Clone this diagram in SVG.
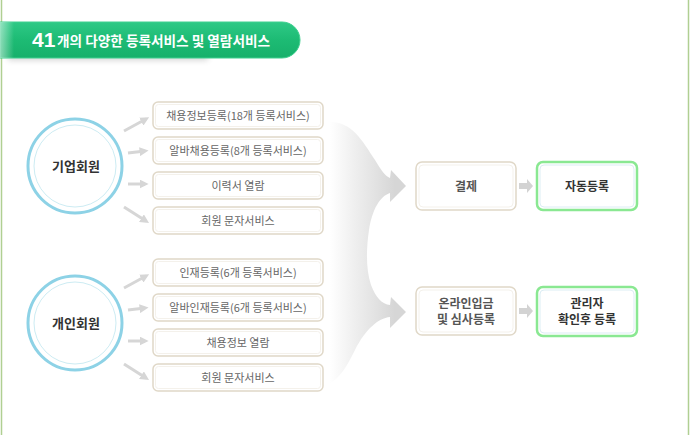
<svg xmlns="http://www.w3.org/2000/svg" width="690" height="435" viewBox="0 0 690 435">
<defs>
<style>
.box{fill:#fff;stroke:#e0d8c8;stroke-width:1.5}
.boxin{fill:none;stroke:#f4f1eb;stroke-width:1}
.gbox{fill:#fff;stroke:#8ae892;stroke-width:2.5}
.gin{fill:none;stroke:#dcedf4;stroke-width:1}
.t{font-family:"Noto Sans CJK KR","Noto Sans",sans-serif;font-size:11px;fill:#666;text-anchor:middle}
.ct{font-family:"Noto Sans CJK KR",sans-serif;font-size:13px;font-weight:bold;fill:#333;text-anchor:middle}
.rt{font-family:"Noto Sans CJK KR",sans-serif;font-size:12px;font-weight:bold;fill:#555;text-anchor:middle}
.gt{font-family:"Noto Sans CJK KR",sans-serif;font-size:12px;font-weight:bold;fill:#333;text-anchor:middle}
.ln{stroke:#d6d6d6;stroke-width:3;fill:none;marker-end:url(#ah)}
.circ{fill:#fff;stroke:#8dd2e6;stroke-width:3}
.circin{fill:none;stroke:#cdecf3;stroke-width:1}
</style>
<marker id="ah" viewBox="0 0 10 10" refX="6" refY="5" markerWidth="3" markerHeight="3" orient="auto" markerUnits="strokeWidth">
<path d="M0,0 L10,5 L0,10 Z" fill="#d6d6d6"/>
</marker>
<linearGradient id="sw" x1="330" y1="0" x2="395" y2="0" gradientUnits="userSpaceOnUse">
<stop offset="0" stop-color="#ffffff"/>
<stop offset="0.35" stop-color="#f0f0f0"/>
<stop offset="1" stop-color="#d6d6d6"/>
</linearGradient>
<linearGradient id="ban" x1="0" y1="22" x2="0" y2="58" gradientUnits="userSpaceOnUse">
<stop offset="0" stop-color="#2ec986"/>
<stop offset="0.5" stop-color="#1dbb74"/>
<stop offset="1" stop-color="#17b06b"/>
</linearGradient>
<linearGradient id="banl" x1="0" y1="0" x2="14" y2="0" gradientUnits="userSpaceOnUse">
<stop offset="0" stop-color="#ffffff" stop-opacity="0.5"/>
<stop offset="1" stop-color="#ffffff" stop-opacity="0"/>
</linearGradient>
<filter id="blur" x="-20%" y="-100%" width="140%" height="300%">
<feGaussianBlur stdDeviation="3"/>
</filter>
</defs>
<rect width="690" height="435" fill="#fff"/>
<line x1="1.5" y1="0" x2="1.5" y2="435" stroke="#b0cf92" stroke-width="1.5"/>
<line x1="688.5" y1="0" x2="688.5" y2="435" stroke="#b0cf92" stroke-width="1.5"/>

<g id="header">
<rect x="8" y="52" width="200" height="8" fill="#000" opacity="0.18" filter="url(#blur)"/>
<path d="M0,22 H282 A18,18 0 0 1 282,58 H0 Z" fill="url(#ban)" stroke="#3fd08f" stroke-width="1"/>
<rect x="0" y="22" width="14" height="36" fill="url(#banl)"/>
<text x="32" y="47" font-family="Liberation Sans,Arial,sans-serif" font-size="21" font-weight="bold" fill="#fff">41</text>
<text x="57" y="46" font-family="Noto Sans CJK KR,sans-serif" font-size="13.5" font-weight="bold" fill="#fff" textLength="213" lengthAdjust="spacingAndGlyphs">개의 다양한 등록서비스 및 열람서비스</text>
</g>

<g id="swoosh">
<path d="M330,122 C352,122 362,140 375,160 C381,170 385,176 390,178 L391,170 L406,186 L390,202 L390,193 C380,196 372,210 369,230 C366,250 366,270 371,285 C376,298 382,304 390,305 L391,297 L406,312 L390,328 L390,317 C378,318 365,330 355,350 C347,366 340,378 330,383 Z" fill="url(#sw)"/>
</g>

<g id="connectors">
<line class="ln" x1="124" y1="131" x2="146" y2="119"/>
<line class="ln" x1="128" y1="153" x2="145" y2="151"/>
<line class="ln" x1="128" y1="184" x2="145" y2="184"/>
<line class="ln" x1="124" y1="207" x2="146" y2="221"/>
<line class="ln" x1="124" y1="288" x2="146" y2="276"/>
<line class="ln" x1="128" y1="310" x2="145" y2="308"/>
<line class="ln" x1="128" y1="341" x2="145" y2="341"/>
<line class="ln" x1="124" y1="364" x2="146" y2="378"/>
<path d="M519,183 H527 V179 L533,186 L527,193 V189 H519 Z" fill="#d3d3d3"/>
<path d="M519,308 H527 V304 L533,311 L527,318 V314 H519 Z" fill="#d3d3d3"/>
</g>

<g id="corp">
<circle class="circ" cx="75" cy="166" r="47"/>
<circle class="circin" cx="75" cy="166" r="41"/>
<text class="ct" x="76" y="171">기업회원</text>
</g>
<g id="person">
<circle class="circ" cx="75" cy="323" r="47"/>
<circle class="circin" cx="75" cy="323" r="41"/>
<text class="ct" x="76" y="328">개인회원</text>
</g>

<g id="c1"><rect class="box" x="153" y="102" width="170" height="27" rx="5"/><rect class="boxin" x="155.5" y="104.5" width="165" height="22" rx="3"/><text class="t" x="238" y="119.5">채용정보등록(18개 등록서비스)</text></g>
<g id="c2"><rect class="box" x="153" y="137" width="170" height="27" rx="5"/><rect class="boxin" x="155.5" y="139.5" width="165" height="22" rx="3"/><text class="t" x="238" y="154.5">알바채용등록(8개 등록서비스)</text></g>
<g id="c3"><rect class="box" x="153" y="172" width="170" height="27" rx="5"/><rect class="boxin" x="155.5" y="174.5" width="165" height="22" rx="3"/><text class="t" x="238" y="189.5">이력서 열람</text></g>
<g id="c4"><rect class="box" x="153" y="207" width="170" height="27" rx="5"/><rect class="boxin" x="155.5" y="209.5" width="165" height="22" rx="3"/><text class="t" x="238" y="224.5">회원 문자서비스</text></g>

<g id="p1"><rect class="box" x="153" y="259" width="170" height="27" rx="5"/><rect class="boxin" x="155.5" y="261.5" width="165" height="22" rx="3"/><text class="t" x="238" y="276.5">인재등록(6개 등록서비스)</text></g>
<g id="p2"><rect class="box" x="153" y="294" width="170" height="27" rx="5"/><rect class="boxin" x="155.5" y="296.5" width="165" height="22" rx="3"/><text class="t" x="238" y="311.5">알바인재등록(6개 등록서비스)</text></g>
<g id="p3"><rect class="box" x="153" y="329" width="170" height="27" rx="5"/><rect class="boxin" x="155.5" y="331.5" width="165" height="22" rx="3"/><text class="t" x="238" y="346.5">채용정보 열람</text></g>
<g id="p4"><rect class="box" x="153" y="364" width="170" height="27" rx="5"/><rect class="boxin" x="155.5" y="366.5" width="165" height="22" rx="3"/><text class="t" x="238" y="381.5">회원 문자서비스</text></g>

<g id="pay"><rect class="box" x="416" y="162" width="100" height="48" rx="6"/><rect class="boxin" x="419" y="165" width="94" height="42" rx="4"/><text class="rt" x="466" y="190.5">결제</text></g>
<g id="auto"><rect class="gbox" x="537" y="162" width="100" height="48" rx="6"/><rect class="gin" x="540" y="165" width="94" height="42" rx="4"/><text class="gt" x="587" y="190.5">자동등록</text></g>
<g id="deposit"><rect class="box" x="416" y="287" width="100" height="48" rx="6"/><rect class="boxin" x="419" y="290" width="94" height="42" rx="4"/><text class="rt" x="466" y="307.5">온라인입금</text><text class="rt" x="466" y="323.5">및 심사등록</text></g>
<g id="admin"><rect class="gbox" x="537" y="287" width="100" height="49" rx="6"/><rect class="gin" x="540" y="290" width="94" height="43" rx="4"/><text class="gt" x="587" y="307.5">관리자</text><text class="gt" x="587" y="323.5">확인후 등록</text></g>
</svg>
